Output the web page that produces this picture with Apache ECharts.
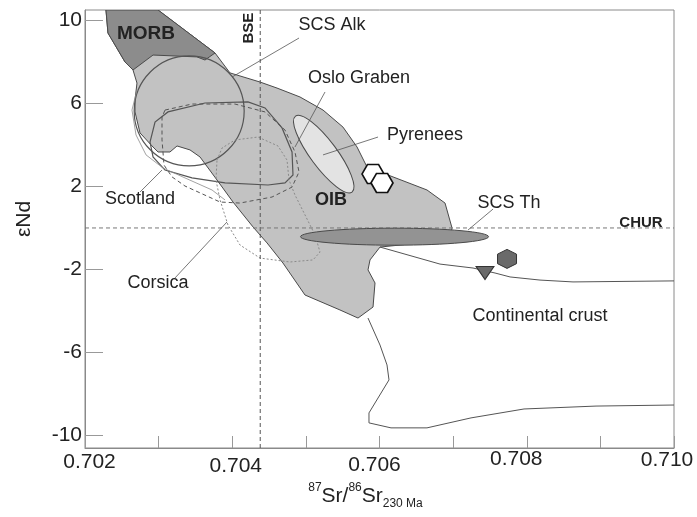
<!DOCTYPE html>
<html><head><meta charset="utf-8">
<script src="https://cdn.jsdelivr.net/npm/echarts@6/dist/echarts.min.js"></script>
<style>html,body{margin:0;padding:0;background:#fff}#c{width:697px;height:517px}</style>
</head><body><div id="c"></div>
<script>
// ---- axis ticks / labels ----
const srTicks = [0.702, 0.703, 0.704, 0.705, 0.706, 0.707, 0.708, 0.709, 0.710];
const srLabels = [0.702, 0.704, 0.706, 0.708, 0.710];
const ndLabels = [10, 6, 2, -2, -6, -10];

// ---- reference lines ----
const BSE_SR = 0.70438;
const CHUR_ND = 0;

// ---- fields (87Sr/86Sr, eNd) ----
const oibField = [[0.702285,10.5],[0.702992,10.5],[0.703766,8.43],[0.703969,7.47],[0.704377,7.03],[0.704608,6.74],[0.704920,6.31],[0.705233,5.68],[0.705504,4.86],[0.705695,3.90],[0.705830,2.94],[0.706007,2.70],[0.706645,1.83],[0.706890,1.20],[0.706985,0.0],[0.706958,-0.58],[0.706007,-0.92],[0.705871,-1.54],[0.705844,-2.02],[0.705939,-2.65],[0.705912,-3.81],[0.705708,-4.34],[0.705463,-3.95],[0.704988,-3.23],[0.704689,-1.69],[0.704472,-0.72],[0.704282,0.05],[0.704010,1.25],[0.703793,2.31],[0.703562,3.42],[0.703426,3.76],[0.703250,3.95],[0.703154,3.66],[0.702992,3.66],[0.702924,3.90],[0.702747,4.58],[0.702679,5.59],[0.702679,6.16],[0.702706,6.98],[0.702652,7.61],[0.702543,8.00],[0.702312,9.39]];
const morbField = [[0.702285,10.5],[0.702992,10.5],[0.703766,8.43],[0.703630,8.09],[0.703521,8.24],[0.702924,8.33],[0.702652,7.61],[0.702543,8.00],[0.702312,9.39]];
const scotlandField = [[0.702883,4.14],[0.702951,5.10],[0.703127,5.59],[0.703630,6.02],[0.704214,6.07],[0.704445,5.78],[0.704676,4.82],[0.704812,3.66],[0.704825,2.55],[0.704716,2.17],[0.704486,2.07],[0.703902,2.17],[0.703453,2.41],[0.703087,2.79],[0.702924,3.42]];
const dashedField = [[0.703087,5.68],[0.703453,5.97],[0.704037,5.97],[0.704445,5.59],[0.704716,4.72],[0.704852,3.66],[0.704907,2.70],[0.704812,1.97],[0.704540,1.49],[0.704105,1.20],[0.703834,1.25],[0.703562,1.69],[0.703358,2.02],[0.703182,2.46],[0.703073,3.03],[0.703046,4.24],[0.703046,5.35]];
const corsicaField = [[0.703793,3.27],[0.703861,3.85],[0.704037,4.24],[0.704350,4.38],[0.704621,3.95],[0.704744,3.27],[0.704771,2.31],[0.704852,1.59],[0.704988,0.63],[0.705124,-0.34],[0.705192,-1.16],[0.705097,-1.54],[0.704784,-1.64],[0.704377,-1.45],[0.704105,-0.82],[0.703942,0.14],[0.703834,1.35],[0.703779,2.31]];
const outerLine = [[0.702706,6.65],[0.702638,5.68],[0.702693,4.48],[0.702829,3.52],[0.703059,2.89],[0.703358,2.41],[0.703725,1.83],[0.703902,1.35]];
const crustLine = [[0.706007,-0.92],[0.706822,-1.74],[0.707270,-1.93],[0.707569,-2.17],[0.707773,-2.36],[0.708180,-2.51],[0.708628,-2.60],[0.710,-2.55]];
const crustLower = [[0.705844,-4.34],[0.706007,-5.64],[0.706102,-6.60],[0.706129,-7.32],[0.705857,-8.91],[0.705857,-9.39],[0.706156,-9.63],[0.706645,-9.63],[0.707243,-9.15],[0.707963,-8.72],[0.708941,-8.58],[0.710,-8.53]];

// ---- ellipses ----
const scsAlk = {center:[0.703415,5.64], rx:0.000747, ry:2.65};
const scsTh = {center:[0.706204,-0.42], rx:0.001277, ry:0.41};
const osloGraben = {center:[0.705243,3.56], end:[0.704859,5.39], ratio:0.28};

// ---- samples ----
const whiteHex = [[0.705912,2.60],[0.706034,2.17]];
const darkHex = [[0.707732,-1.49]];
const downTri = [[0.707433,-2.17]];

// ---- leader lines ----
const leaders = [
  [[0.704907,9.15],[0.703997,7.27]],
  [[0.705260,6.55],[0.704852,3.90]],
  [[0.705980,4.38],[0.705233,3.52]],
  [[0.707542,0.91],[0.707202,-0.10]],
  [[0.702747,1.73],[0.703046,2.79]],
  [[0.703222,-2.41],[0.703929,0.29]]
];

// ---- annotations ----
const annotations = [
  {text:'MORB', pos:[0.702829,9.34], kind:'bigBold'},
  {text:'BSE', pos:[0.704228,9.63], kind:'smallBoldV'},
  {text:'SCS Alk', pos:[0.705355,9.78], kind:'normal'},
  {text:'Oslo Graben', pos:[0.705722,7.22], kind:'normal'},
  {text:'Pyrenees', pos:[0.706618,4.48], kind:'normal'},
  {text:'OIB', pos:[0.705341,1.35], kind:'bold'},
  {text:'SCS Th', pos:[0.707759,1.18], kind:'normal'},
  {text:'CHUR', pos:[0.709552,0.26], kind:'smallBold'},
  {text:'Continental crust', pos:[0.708180,-4.22], kind:'normal'},
  {text:'Scotland', pos:[0.702747,1.40], kind:'normal'},
  {text:'Corsica', pos:[0.702992,-2.65], kind:'normal'}
];

const FF = '"Liberation Sans", Arial, sans-serif';
const fonts = {
  bigBold: 'bold 19px ' + FF,
  bold: 'bold 18px ' + FF,
  smallBold: 'bold 15px ' + FF,
  smallBoldV: 'bold 15px ' + FF,
  normal: '18px ' + FF
};

function shapeSeries(pts, type, style, z) {
  return {
    type: 'custom', coordinateSystem: 'cartesian2d', silent: true, z: z, clip: true,
    data: [pts[0]],
    renderItem: function (params, api) {
      return {type: type, shape: {points: pts.map(function (p) { return api.coord(p); })}, style: Object.assign({}, style)};
    }
  };
}
function ellipseSeries(e, style, z) {
  return {
    type: 'custom', coordinateSystem: 'cartesian2d', silent: true, z: z,
    data: [e.center],
    renderItem: function (params, api) {
      const c = api.coord(e.center);
      const rx = api.size([e.rx, 0])[0];
      const ry = api.size([0, e.ry])[1];
      return {type: 'ellipse', shape: {cx: c[0], cy: c[1], rx: rx, ry: ry}, style: Object.assign({}, style)};
    }
  };
}
function rotEllipseSeries(e, style, z) {
  return {
    type: 'custom', coordinateSystem: 'cartesian2d', silent: true, z: z,
    data: [e.center],
    renderItem: function (params, api) {
      const c = api.coord(e.center);
      const p = api.coord(e.end);
      const dx = p[0] - c[0], dy = p[1] - c[1];
      const a = Math.sqrt(dx * dx + dy * dy);
      return {type: 'ellipse', x: c[0], y: c[1], rotation: -Math.atan2(dy, dx),
        shape: {cx: 0, cy: 0, rx: a, ry: a * e.ratio}, style: Object.assign({}, style)};
    }
  };
}

const series = [
  shapeSeries(oibField, 'polygon', {fill: '#c2c2c2', stroke: '#4a4a4a', lineWidth: 1}, 1),
  shapeSeries(morbField, 'polygon', {fill: '#8c8c8c', stroke: '#4a4a4a', lineWidth: 1}, 2),
  rotEllipseSeries(osloGraben, {fill: '#e3e3e3', stroke: '#4a4a4a', lineWidth: 1}, 3),
  ellipseSeries(scsAlk, {fill: null, stroke: '#555', lineWidth: 1.2}, 4),
  shapeSeries(scotlandField, 'polygon', {fill: null, stroke: '#555', lineWidth: 1.2}, 4),
  shapeSeries(dashedField, 'polygon', {fill: null, stroke: '#555', lineWidth: 1, lineDash: [4, 3]}, 4),
  shapeSeries(corsicaField, 'polygon', {fill: null, stroke: '#8a8a8a', lineWidth: 1, lineDash: [2, 2]}, 4),
  shapeSeries(outerLine, 'polyline', {fill: null, stroke: '#8a8a8a', lineWidth: 0.8}, 4),
  shapeSeries([[BSE_SR, -10.6], [BSE_SR, 10.5]], 'polyline', {fill: null, stroke: '#555', lineWidth: 1, lineDash: [4, 3]}, 5),
  shapeSeries([[0.702, CHUR_ND], [0.710, CHUR_ND]], 'polyline', {fill: null, stroke: '#777', lineWidth: 1, lineDash: [4, 3]}, 5),
  ellipseSeries(scsTh, {fill: '#939393', stroke: '#4a4a4a', lineWidth: 1}, 6),
  shapeSeries(crustLine, 'polyline', {fill: null, stroke: '#555', lineWidth: 1}, 6),
  shapeSeries(crustLower, 'polyline', {fill: null, stroke: '#555', lineWidth: 1}, 6)
];
leaders.forEach(function (l) {
  series.push(shapeSeries(l, 'polyline', {fill: null, stroke: '#555', lineWidth: 0.8}, 7));
});
series.push({
  type: 'scatter', z: 8, silent: true, data: whiteHex,
  symbol: 'path://M0,433L250,0L750,0L1000,433L750,866L250,866Z', symbolSize: [22, 19],
  itemStyle: {color: '#ffffff', borderColor: '#111', borderWidth: 1.6, opacity: 1}
});
series.push({
  type: 'scatter', z: 8, silent: true, data: darkHex,
  symbol: 'path://M433,0L866,250L866,750L433,1000L0,750L0,250Z', symbolSize: [19, 19],
  itemStyle: {color: '#6a6a6a', borderColor: '#333', borderWidth: 1, opacity: 1}
});
series.push({
  type: 'scatter', z: 8, silent: true, data: downTri,
  symbol: 'triangle', symbolRotate: 180, symbolSize: [18, 13],
  itemStyle: {color: '#6a6a6a', borderColor: '#333', borderWidth: 1, opacity: 1}
});
series.push({
  type: 'custom', coordinateSystem: 'cartesian2d', silent: true, z: 9,
  data: annotations.map(function (a) { return a.pos; }),
  renderItem: function (params, api) {
    const a = annotations[params.dataIndex];
    const p = api.coord(a.pos);
    return {type: 'text', x: p[0], y: p[1], rotation: a.kind === 'smallBoldV' ? Math.PI / 2 : 0,
      style: {text: a.text, font: fonts[a.kind], fill: '#222', align: 'center', verticalAlign: 'middle',
        textAlign: 'center', textVerticalAlign: 'middle'}};
  }
});

const lblBase = {fontSize: 21, fontFamily: FF, color: '#222'};
const chart = echarts.init(document.getElementById('c'));
chart.setOption({
  animation: false,
  backgroundColor: '#fff',
  grid: {left: 85, right: 23, top: 10, bottom: 69, show: true, borderColor: '#8a8a8a', borderWidth: 1,
    containLabel: false, outerBoundsMode: 'none'},
  xAxis: {
    type: 'value', min: 0.702, max: 0.710,
    axisLine: {show: true, onZero: false, lineStyle: {color: '#8a8a8a', width: 1}},
    axisTick: {show: true, inside: true, length: 12, customValues: srTicks, lineStyle: {color: '#999'}},
    splitLine: {show: false},
    axisLabel: {
      customValues: srLabels, margin: 1,
      formatter: function (v) { const k = Math.round(v * 1000); return '{l' + k + '|' + v.toFixed(3) + '}'; },
      rich: {
        l702: Object.assign({padding: [3, 0, 0, 9]}, lblBase),
        l704: Object.assign({padding: [7, 0, 0, 7]}, lblBase),
        l706: Object.assign({padding: [6, 10, 0, 0]}, lblBase),
        l708: Object.assign({padding: [0, 21, 0, 0]}, lblBase),
        l710: Object.assign({padding: [1, 14, 0, 0]}, lblBase)
      }
    },
    name: '{sup|87}{m|Sr/}{sup|86}{m|Sr}{sub|230 Ma}',
    nameLocation: 'middle', nameGap: 34,
    nameTextStyle: {
      padding: [0, 28, 0, 0],
      rich: {
        sup: {fontSize: 12, fontFamily: FF, color: '#222', verticalAlign: 'top', lineHeight: 28},
        m: {fontSize: 21, fontFamily: FF, color: '#222', lineHeight: 28},
        sub: {fontSize: 12, fontFamily: FF, color: '#222', verticalAlign: 'bottom', lineHeight: 28}
      }
    }
  },
  yAxis: {
    type: 'value', min: -10.6, max: 10.5,
    axisLine: {show: true, onZero: false, lineStyle: {color: '#8a8a8a', width: 1}},
    axisTick: {show: true, inside: true, length: 18, customValues: ndLabels, lineStyle: {color: '#999'}},
    splitLine: {show: false},
    axisLabel: {customValues: ndLabels, margin: 3, fontSize: 21, fontFamily: FF, color: '#222'},
    name: 'εNd', nameLocation: 'middle', nameGap: 50, nameRotate: 90,
    nameTextStyle: {fontSize: 21, fontFamily: FF, color: '#222', padding: [0, 0, 0, 20]}
  },
  series: series
});
</script></body></html>
